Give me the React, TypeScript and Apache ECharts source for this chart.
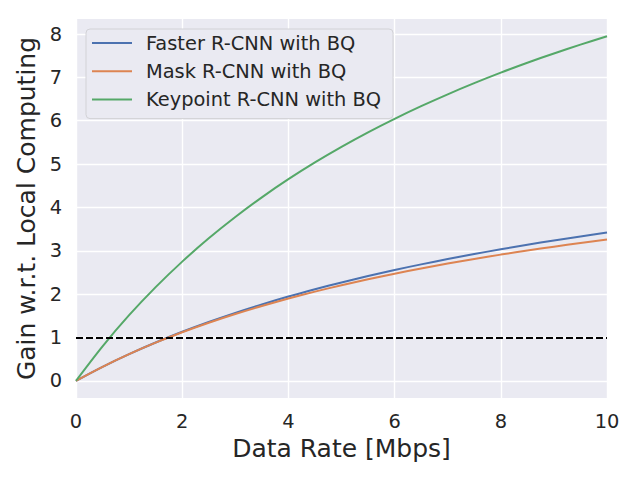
import React, { useEffect, useRef } from "react";
import * as echarts from "echarts";

const xValues = [0, 0.5, 1, 1.5, 2, 2.5, 3, 3.5, 4, 4.5, 5, 5.5, 6, 6.5, 7, 7.5, 8, 8.5, 9, 9.5, 10];
const fasterGain = [0, 0.322, 0.615, 0.883, 1.13, 1.357, 1.567, 1.761, 1.943, 2.111, 2.269, 2.417, 2.556, 2.686, 2.809, 2.925, 3.034, 3.138, 3.237, 3.33, 3.419];
const maskGain = [0, 0.323, 0.615, 0.879, 1.119, 1.339, 1.541, 1.726, 1.898, 2.057, 2.205, 2.343, 2.471, 2.592, 2.705, 2.811, 2.911, 3.005, 3.094, 3.179, 3.258];
const keypointGain = [0, 0.796, 1.513, 2.16, 2.749, 3.287, 3.779, 4.233, 4.651, 5.038, 5.397, 5.732, 6.044, 6.336, 6.61, 6.867, 7.109, 7.337, 7.553, 7.756, 7.949];
const seriesNames = ["Faster R-CNN with BQ", "Mask R-CNN with BQ", "Keypoint R-CNN with BQ"];
const yTicks = [0, 1, 2, 3, 4, 5, 6, 7, 8];
const threshold = 1;

const FONT = "DejaVu Sans";
const TEXT = "#262626";

export default function App() {
  const ref = useRef<HTMLDivElement>(null);
  useEffect(() => {
    document.body.style.margin = "0";
    const chart = echarts.init(ref.current!, null, { renderer: "svg" });
    const toPairs = (arr: number[]) => xValues.map((x, i) => [x, arr[i]]);
    const colors = ["#4C72B0", "#DD8452", "#55A868"];
    const curves = [fasterGain, maskGain, keypointGain].map((arr, i) => ({
      type: "line",
      name: seriesNames[i],
      data: toPairs(arr),
      symbol: "none",
      smooth: 0.3,
      z: 3,
      lineStyle: { color: colors[i], width: 2 },
      itemStyle: { color: colors[i] },
      ...(i === 2
        ? {
            markLine: {
              silent: true,
              symbol: "none",
              label: { show: false },
              lineStyle: { color: "#000000", width: 2, type: [7, 3] },
              data: [{ yAxis: threshold }],
            },
          }
        : {}),
    }));
    chart.setOption({
      animation: false,
      textStyle: { fontFamily: FONT },
      grid: {
        left: 76,
        right: 33,
        top: 19,
        bottom: 82,
        show: true,
        backgroundColor: "#EAEAF2",
        borderWidth: 0,
      },
      legend: {
        orient: "vertical",
        left: 86,
        top: 29,
        z: 10,
        padding: [4, 12, 9, 6],
        itemWidth: 40,
        itemHeight: 2,
        itemGap: 8.3,
        icon: "rect",
        backgroundColor: "#EAEAF2",
        borderColor: "#D2D2D6",
        borderWidth: 1,
        borderRadius: 4,
        textStyle: {
          fontFamily: FONT,
          fontSize: 19.4,
          color: TEXT,
          lineHeight: 20,
          padding: [0, 0, 0, 9],
        },
        data: seriesNames,
      },
      xAxis: {
        type: "value",
        min: 0,
        max: 10,
        interval: 2,
        name: "Data Rate [Mbps]",
        nameLocation: "middle",
        nameGap: 36,
        nameTextStyle: { fontFamily: FONT, fontSize: 25, color: TEXT },
        axisLine: { show: false },
        axisTick: { show: false },
        axisLabel: { fontFamily: FONT, fontSize: 19.4, color: TEXT, margin: 14 },
        splitLine: { show: true, lineStyle: { color: "#FFFFFF", width: 1.4 } },
      },
      yAxis: {
        type: "value",
        min: -0.3975,
        max: 8.3475,
        name: "Gain w.r.t. Local Computing",
        nameLocation: "middle",
        nameGap: 34,
        nameTextStyle: { fontFamily: FONT, fontSize: 25, color: TEXT },
        axisLine: { show: false },
        axisTick: { show: false },
        axisLabel: {
          fontFamily: FONT,
          fontSize: 19.4,
          color: TEXT,
          margin: 14,
          customValues: yTicks,
        },
        splitLine: { show: false },
      },
      series: [
        {
          type: "line",
          name: "_grid",
          data: toPairs(fasterGain),
          symbol: "none",
          silent: true,
          z: 1,
          lineStyle: { opacity: 0 },
          markLine: {
            silent: true,
            symbol: "none",
            z: 1,
            label: { show: false },
            lineStyle: { color: "#FFFFFF", width: 1.4, type: "solid" },
            data: yTicks.map((v) => ({ yAxis: v })),
          },
        },
        ...curves,
      ],
    });
    return () => chart.dispose();
  }, []);
  return <div ref={ref} style={{ width: 640, height: 480 }} />;
}
